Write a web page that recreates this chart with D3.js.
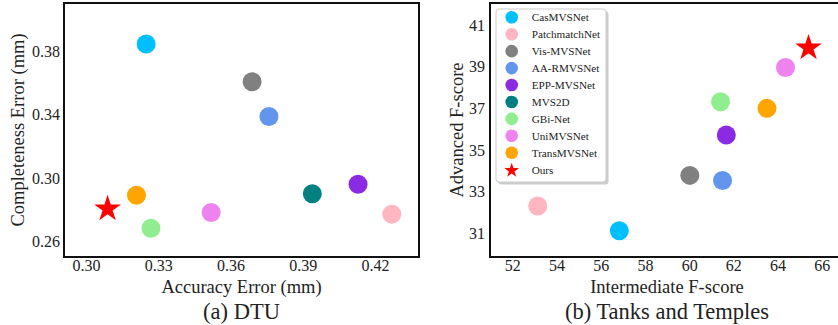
<!DOCTYPE html>
<html>
<head>
<meta charset="utf-8">
<script src="https://cdn.jsdelivr.net/npm/d3@7"></script>
<style>
  body { margin: 0; background: #fff; }
  svg text { font-family: "Liberation Serif", "Times New Roman", serif; fill: #222; }
</style>
</head>
<body>
<svg id="chart" width="838" height="325"></svg>
<script>
// methods and their colours (legend order)
const methods = ["CasMVSNet", "PatchmatchNet", "Vis-MVSNet", "AA-RMVSNet", "EPP-MVSNet",
                 "MVS2D", "GBi-Net", "UniMVSNet", "TransMVSNet", "Ours"];
const colors = ["#00bfff", "#ffb6c1", "#808080", "#6495ed", "#8a2be2",
                "#008080", "#90ee90", "#ee82ee", "#ffa500", "#ff0000"];

// DTU: accuracy / completeness (mm)
const dtuAcc  = [0.325, 0.427, 0.369, 0.376, 0.413, 0.394, 0.327, 0.352, 0.321, 0.309];
const dtuComp = [0.385, 0.277, 0.361, 0.339, 0.296, 0.290, 0.268, 0.278, 0.289, 0.281];

// Tanks and Temples: intermediate / advanced (MVS2D not reported)
const ttInter = [56.84, 53.15, 60.03, 61.51, 61.68, null, 61.42, 64.36, 63.52, 65.4];
const ttAdv   = [31.12, 32.31, 33.78, 33.53, 35.72, null, 37.32, 38.96, 37.00, 39.95];

const dtuXTicks = [0.30, 0.33, 0.36, 0.39, 0.42];
const dtuYTicks = [0.26, 0.30, 0.34, 0.38];
const ttXTicks = [52, 54, 56, 58, 60, 62, 64, 66];
const ttYTicks = [31, 33, 35, 37, 39, 41];

const svg = d3.select("#chart");
const plotTop = 3, plotBottom = 257;
const circleR = 9.5;
const star = d3.symbol().type(d3.symbolStar).size(220);

function panel(opts) {
  const g = svg.append("g");
  const x = d3.scaleLinear().domain(opts.xDomain).range([opts.left, opts.right]);
  const y = d3.scaleLinear().domain(opts.yDomain).range([plotBottom, plotTop]);

  g.append("g")
    .attr("transform", `translate(0,${plotBottom})`)
    .call(d3.axisBottom(x).tickValues(opts.xTicks).tickFormat(opts.fmt).tickSize(0).tickPadding(3))
    .call(a => a.select(".domain").remove())
    .selectAll("text").style("font-size", "16px").style("font-family", "'Liberation Serif', serif").attr("fill", "#222");

  g.append("g")
    .attr("transform", `translate(${opts.left},0)`)
    .call(d3.axisLeft(y).tickValues(opts.yTicks).tickFormat(opts.yfmt).tickSize(0).tickPadding(opts.yPad))
    .call(a => a.select(".domain").remove())
    .selectAll("text").style("font-size", "16px").style("font-family", "'Liberation Serif', serif").attr("fill", "#222");

  const pts = opts.xs.map((v, i) => ({ x: v, y: opts.ys[i], i }))
    .filter(d => d.x !== null);

  g.selectAll("circle.pt")
    .data(pts.filter(d => methods[d.i] !== "Ours"))
    .enter().append("circle")
    .attr("class", "pt")
    .attr("cx", d => x(d.x))
    .attr("cy", d => y(d.y))
    .attr("r", circleR)
    .attr("fill", d => colors[d.i]);

  g.selectAll("path.star")
    .data(pts.filter(d => methods[d.i] === "Ours"))
    .enter().append("path")
    .attr("class", "star")
    .attr("d", star)
    .attr("transform", d => `translate(${x(d.x)},${y(d.y) + 1})`)
    .attr("fill", "#ff0000");

  g.append("rect")
    .attr("x", opts.left).attr("y", plotTop)
    .attr("width", opts.right - opts.left).attr("height", plotBottom - plotTop)
    .attr("fill", "none").attr("stroke", "#111").attr("stroke-width", 2);

  g.append("text").attr("x", opts.labelCx).attr("y", 292.5)
    .attr("text-anchor", "middle").style("font-size", "18.5px").text(opts.xLabel);
  g.append("text")
    .attr("transform", `translate(${opts.yLabelX},130) rotate(-90)`)
    .attr("text-anchor", "middle").style("font-size", "18.5px").text(opts.yLabel);
  g.append("text").attr("x", opts.labelCx).attr("y", 318.5)
    .attr("text-anchor", "middle").style("font-size", "22.5px").text(opts.title);
  return g;
}

panel({
  left: 64, right: 419,
  xDomain: [0.2909, 0.4383], yDomain: [0.2498, 0.411],
  xTicks: dtuXTicks, yTicks: dtuYTicks,
  fmt: d3.format(".2f"), yfmt: d3.format(".2f"), yPad: 4,
  xs: dtuAcc, ys: dtuComp,
  xLabel: "Accuracy Error (mm)", yLabel: "Completeness Error (mm)",
  title: "(a) DTU", labelCx: 241.5, yLabelX: 24
});

panel({
  left: 490, right: 843,
  xDomain: [50.99, 66.96], yDomain: [29.86, 42.06],
  xTicks: ttXTicks, yTicks: ttYTicks,
  fmt: d3.format("d"), yfmt: d3.format("d"), yPad: 5,
  xs: ttInter, ys: ttAdv,
  xLabel: "Intermediate F-score", yLabel: "Advanced F-score",
  title: "(b) Tanks and Temples", labelCx: 667, yLabelX: 463
});

// legend
const leg = svg.append("g").attr("transform", "translate(496,9)");
leg.append("rect").attr("x", 2.5).attr("y", 2.5).attr("width", 110).attr("height", 173)
  .attr("rx", 3).attr("fill", "#aaa").attr("opacity", 0.6);
leg.append("rect").attr("width", 110).attr("height", 173).attr("rx", 3)
  .attr("fill", "#fff").attr("stroke", "#ccc").attr("stroke-width", 1);
const step = 16.93;
const item = leg.selectAll("g.item").data(methods).enter().append("g")
  .attr("class", "item")
  .attr("transform", (d, i) => `translate(15.7,${8.3 + i * step})`);
item.filter(d => d !== "Ours").append("circle").attr("r", 6.3)
  .attr("fill", d => colors[methods.indexOf(d)]);
item.filter(d => d === "Ours").append("path")
  .attr("d", d3.symbol().type(d3.symbolStar).size(66))
  .attr("transform", "translate(0,0.8)")
  .attr("fill", "#ff0000");
item.append("text").attr("x", 20).attr("y", 4).style("font-size", "11.2px").text(d => d);
</script>
</body>
</html>
